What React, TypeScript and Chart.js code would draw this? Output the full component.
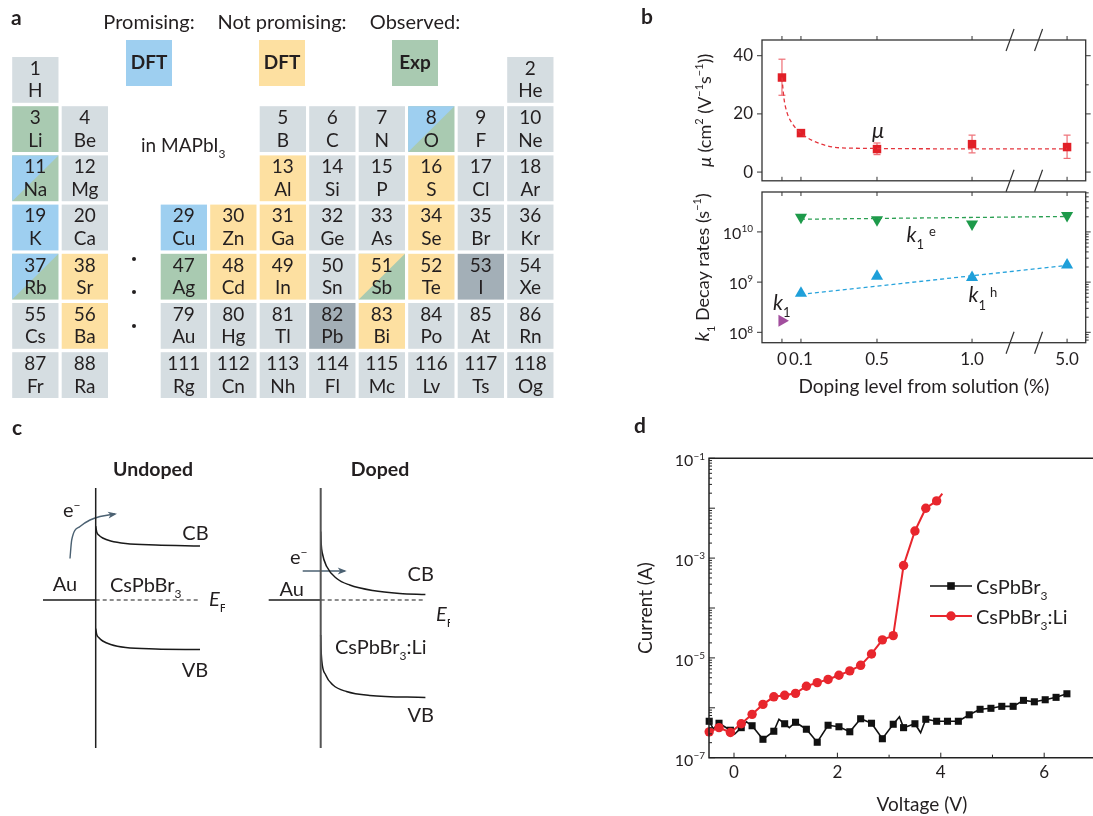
import React, { useEffect, useRef } from 'react';
import { Chart, registerables } from 'chart.js';

Chart.register(...registerables);

const FAM = 'Lato, "Open Sans", "DejaVu Sans", sans-serif';
const INK = '#231f20';
Chart.defaults.font.family = FAM;
Chart.defaults.color = INK;

// ---------------- Panel a: periodic table ----------------
const elNumbers = [1, 2, 3, 4, 5, 6, 7, 8, 9, 10, 11, 12, 13, 14, 15, 16, 17, 18, 19, 20, 29, 30, 31, 32, 33, 34, 35, 36, 37, 38, 47, 48, 49, 50, 51, 52, 53, 54, 55, 56, 79, 80, 81, 82, 83, 84, 85, 86, 87, 88, 111, 112, 113, 114, 115, 116, 117, 118];
const elSymbols = ['H', 'He', 'Li', 'Be', 'B', 'C', 'N', 'O', 'F', 'Ne', 'Na', 'Mg', 'Al', 'Si', 'P', 'S', 'Cl', 'Ar', 'K', 'Ca', 'Cu', 'Zn', 'Ga', 'Ge', 'As', 'Se', 'Br', 'Kr', 'Rb', 'Sr', 'Ag', 'Cd', 'In', 'Sn', 'Sb', 'Te', 'I', 'Xe', 'Cs', 'Ba', 'Au', 'Hg', 'Tl', 'Pb', 'Bi', 'Po', 'At', 'Rn', 'Fr', 'Ra', 'Rg', 'Cn', 'Nh', 'Fl', 'Mc', 'Lv', 'Ts', 'Og'];
const elRow = [0, 0, 1, 1, 1, 1, 1, 1, 1, 1, 2, 2, 2, 2, 2, 2, 2, 2, 3, 3, 3, 3, 3, 3, 3, 3, 3, 3, 4, 4, 4, 4, 4, 4, 4, 4, 4, 4, 5, 5, 5, 5, 5, 5, 5, 5, 5, 5, 6, 6, 6, 6, 6, 6, 6, 6, 6, 6];
const elColumn = [0, 10, 0, 1, 5, 6, 7, 8, 9, 10, 0, 1, 5, 6, 7, 8, 9, 10, 0, 1, 3, 4, 5, 6, 7, 8, 9, 10, 0, 1, 3, 4, 5, 6, 7, 8, 9, 10, 0, 1, 3, 4, 5, 6, 7, 8, 9, 10, 0, 1, 3, 4, 5, 6, 7, 8, 9, 10];
// n: not studied, p: promising (DFT), u: not promising (DFT), e: observed (Exp), pe / ue: split, h: host
const elCategory = [
  'n', 'n',
  'e', 'n', 'n', 'n', 'n', 'pe', 'n', 'n',
  'pe', 'n', 'u', 'n', 'n', 'u', 'n', 'n',
  'p', 'n', 'p', 'u', 'u', 'n', 'n', 'u', 'n', 'n',
  'pe', 'u', 'e', 'u', 'u', 'n', 'ue', 'u', 'h', 'n',
  'n', 'u', 'n', 'n', 'n', 'h', 'u', 'n', 'n', 'n',
  'n', 'n', 'n', 'n', 'n', 'n', 'n', 'n', 'n', 'n',
];
const legendTitles = ['Promising:', 'Not promising:', 'Observed:'];
const legendBoxText = ['DFT', 'DFT', 'Exp'];
const legendCats = ['p', 'u', 'e'];
const CAT_COLORS: any = { n: '#d5dde1', p: '#9ecff0', u: '#fde0a1', e: '#a9cab1', h: '#a3afb7' };

// ---------------- Panel b ----------------
const dopingTickPos = [0, 0.1, 0.5, 1.0, 1.5];
const dopingTickLabels = ['0', '0.1', '0.5', '1.0', '5.0'];
const axisBreakPos = [1.2, 1.35];
const muPos = [0, 0.1, 0.5, 1.0, 1.5];
const muValues = [32.5, 13.4, 7.9, 9.6, 8.6];
const muErrLow = [26.4, 12.6, 6.0, 6.6, 4.7];
const muErrHigh = [38.8, 14.2, 10.0, 12.7, 12.7];
const muFitPos = [0, 0.01, 0.025, 0.05, 0.1, 0.165, 0.27, 0.375, 1.0, 1.5];
const muFitValues = [32.5, 25.6, 20.8, 17.1, 13.4, 10.7, 8.6, 8.2, 8.0, 8.0];
const muTicks = [0, 20, 40];
const muMinorTicks = [10, 30];
const kPos = [0.1, 0.5, 1.0, 1.5];
const k1eValues = [1.97e10, 1.75e10, 1.43e10, 2.12e10];
const k1hValues = [6.0e8, 1.31e9, 1.23e9, 2.2e9];
const k1UndopedPos = [0];
const k1UndopedValues = [1.7e8];
const k1eFitPos = [0.1, 1.5];
const k1eFitValues = [1.79e10, 2.03e10];
const k1hFitPos = [0.1, 1.5];
const k1hFitValues = [5.7e8, 2.15e9];
const kTicks = [1e8, 1e9, 1e10];

// ---------------- Panel c ----------------
const undopedCbDist = [0, 0.1, 0.3, 0.7, 1.5, 3, 6, 10.43];
const undopedCbEnergy = [1.48, 1.36, 1.3, 1.24, 1.18, 1.13, 1.1, 1.08];
const undopedVbDist = [0, 0.1, 0.3, 0.7, 1.5, 3, 6, 10.43];
const undopedVbEnergy = [-0.57, -0.69, -0.75, -0.82, -0.89, -0.95, -0.98, -0.99];
const undopedArrowDist = [-2.57, -2.4, -1.57, -0.57, 0.43, 1.93];
const undopedArrowEnergy = [0.83, 1.2, 1.47, 1.6, 1.67, 1.72];
const undopedAuDist = [-5.27, 0];
const undopedEfDist = [0, 10.43];
const dopedCbDist = [0, 0.05, 0.17, 0.6, 1.6, 2.9, 5.2, 7.9, 10.47];
const dopedCbEnergy = [1.37, 1.12, 0.93, 0.67, 0.43, 0.3, 0.19, 0.13, 0.11];
const dopedVbDist = [0, 0.03, 0.1, 0.5, 1.23, 2.57, 4.9, 10.47];
const dopedVbEnergy = [-0.7, -0.95, -1.2, -1.5, -1.7, -1.83, -1.91, -1.95];
const dopedArrowDist = [-1.8, 2.4];
const dopedArrowEnergy = [0.58, 0.58];
const dopedAuDist = [-5.2, 0];
const dopedEfDist = [0, 10.47];
const levelEnergy = [0, 0];
const wallDist = [0, 0];
const wallEnergy = [2.24, -2.96];

// ---------------- Panel d ----------------
const pureVoltage = [-0.48, -0.4, -0.29, -0.07, 0.01, 0.14, 0.24, 0.35, 0.56, 0.77, 0.87, 0.98, 1.07, 1.19, 1.4, 1.61, 1.82, 2.03, 2.24, 2.45, 2.66, 2.87, 3.08, 3.2, 3.28, 3.5, 3.61, 3.71, 3.92, 4.13, 4.34, 4.55, 4.76, 4.97, 5.18, 5.4, 5.6, 5.81, 6.02, 6.23, 6.44];
const pureCurrent = [5.37e-7, 3.8e-7, 4.9e-7, 3.55e-7, 2.95e-7, 4.0e-7, 5.25e-7, 4.37e-7, 2.34e-7, 3.39e-7, 5.89e-7, 4.79e-7, 4.0e-7, 5.13e-7, 3.72e-7, 2.04e-7, 4.47e-7, 4.17e-7, 3.31e-7, 6.03e-7, 4.9e-7, 2.4e-7, 4.68e-7, 6.6e-7, 4.0e-7, 4.79e-7, 3.16e-7, 5.89e-7, 5.37e-7, 5.37e-7, 5.37e-7, 7.24e-7, 9.33e-7, 9.77e-7, 1.07e-6, 1.07e-6, 1.41e-6, 1.32e-6, 1.45e-6, 1.62e-6, 1.91e-6];
const pureMarked = [1, 0, 1, 1, 0, 1, 0, 1, 1, 1, 0, 1, 0, 1, 1, 1, 1, 1, 1, 1, 1, 1, 1, 0, 1, 1, 0, 1, 1, 1, 1, 1, 1, 1, 1, 1, 1, 1, 1, 1, 1];
const liVoltage = [-0.48, -0.29, -0.07, 0.14, 0.35, 0.56, 0.77, 0.98, 1.19, 1.4, 1.61, 1.82, 2.03, 2.24, 2.45, 2.66, 2.87, 3.08, 3.28, 3.5, 3.71, 3.92, 4.03];
const liCurrent = [3.3e-7, 4.0e-7, 3.2e-7, 4.8e-7, 7.4e-7, 1.17e-6, 1.66e-6, 1.78e-6, 1.95e-6, 2.7e-6, 3.2e-6, 3.7e-6, 4.5e-6, 5.5e-6, 7.1e-6, 1.2e-5, 2.3e-5, 2.8e-5, 7.1e-4, 3.5e-3, 1.0e-2, 1.4e-2, 1.95e-2];
const liMarked = [1, 1, 1, 1, 1, 1, 1, 1, 1, 1, 1, 1, 1, 1, 1, 1, 1, 1, 1, 1, 1, 1, 0];
const voltageTicks = [0, 2, 4, 6];
const voltageMinorTicks = [1, 3, 5, 7];
const currentLabelTicks = [1e-7, 1e-5, 1e-3, 1e-1];

// ---------------- helpers ----------------
type Seg = { t: string; it?: boolean; b?: boolean; s?: number; dy?: number; dx?: number };

function drawRich(ctx: any, segs: Seg[], x: number, y: number, align: string, base: number, color = INK) {
  ctx.save();
  ctx.textBaseline = 'alphabetic';
  ctx.textAlign = 'left';
  ctx.fillStyle = color;
  const font = (s: Seg) => `${s.it ? 'italic ' : ''}${s.b ? 'bold ' : ''}${s.s ?? base}px ${FAM}`;
  let w = 0;
  for (const s of segs) {
    ctx.font = font(s);
    w += (s.dx ?? 0) + ctx.measureText(s.t).width;
  }
  let cx = align === 'left' ? x : align === 'center' ? x - w / 2 : x - w;
  for (const s of segs) {
    ctx.font = font(s);
    cx += s.dx ?? 0;
    ctx.fillText(s.t, cx, y + (s.dy ?? 0));
    cx += ctx.measureText(s.t).width;
  }
  ctx.restore();
}
const sub = (t: string, base: number, extra: any = {}): Seg => ({ t, s: Math.round(base * 0.62), dy: base * 0.32, ...extra });
const sup = (t: string, base: number, extra: any = {}): Seg => ({ t, s: Math.round(base * 0.62), dy: -base * 0.42, ...extra });

function seg(ctx: any, x1: number, y1: number, x2: number, y2: number) {
  ctx.beginPath();
  ctx.moveTo(x1, y1);
  ctx.lineTo(x2, y2);
  ctx.stroke();
}
const pts = (xs: number[], ys: number[]) => xs.map((x, i) => ({ x, y: ys[i] }));

const baseOptions = {
  animation: false,
  responsive: false,
  devicePixelRatio: 1,
  events: [],
  plugins: { legend: { display: false }, tooltip: { enabled: false } },
};

const hiddenAxis = (min: number, max: number, extra: any = {}) => ({ type: 'linear', display: false, min, max, ...extra });

// ---------------- Panel a chart ----------------
const CELL_W = 0.935;
const CELL_H = 0.931;
function makePeriodic(canvas: HTMLCanvasElement) {
  return new Chart(canvas, {
    type: 'scatter',
    data: { datasets: [{ data: pts(elColumn, elRow), pointRadius: 0 }] },
    options: {
      ...baseOptions,
      layout: { padding: 0 },
      scales: {
        x: hiddenAxis(-12.2 / 49.5, (560 - 12.2) / 49.5),
        y: hiddenAxis(-57 / 49.2, (410 - 57) / 49.2, { reverse: true }),
      },
    } as any,
    plugins: [
      {
        id: 'ptable',
        afterDraw(chart: any) {
          const { ctx } = chart;
          const xs = chart.scales.x;
          const ys = chart.scales.y;
          ctx.save();
          drawRich(ctx, [{ t: 'a', b: true }], 11, 25, 'left', 21);
          const centers = [149, 282, 415];
          legendTitles.forEach((t, i) => drawRich(ctx, [{ t }], centers[i], 29, 'center', 20));
          legendCats.forEach((cat, i) => {
            ctx.fillStyle = CAT_COLORS[cat];
            ctx.fillRect(centers[i] - 23, 40, 46, 46);
            drawRich(ctx, [{ t: legendBoxText[i], b: true }], centers[i], 69, 'center', 19);
          });
          elNumbers.forEach((n, i) => {
            const x0 = xs.getPixelForValue(elColumn[i]);
            const x1 = xs.getPixelForValue(elColumn[i] + CELL_W);
            const y0 = ys.getPixelForValue(elRow[i]);
            const y1 = ys.getPixelForValue(elRow[i] + CELL_H);
            const cat = elCategory[i];
            if (cat === 'pe' || cat === 'ue') {
              ctx.fillStyle = CAT_COLORS.e;
              ctx.fillRect(x0, y0, x1 - x0, y1 - y0);
              ctx.fillStyle = CAT_COLORS[cat === 'pe' ? 'p' : 'u'];
              ctx.beginPath();
              ctx.moveTo(x0, y0);
              ctx.lineTo(x1, y0);
              ctx.lineTo(x0, y1);
              ctx.closePath();
              ctx.fill();
            } else {
              ctx.fillStyle = CAT_COLORS[cat];
              ctx.fillRect(x0, y0, x1 - x0, y1 - y0);
            }
            const cx = (x0 + x1) / 2;
            drawRich(ctx, [{ t: String(n) }], cx, y0 + 17.7, 'center', 19);
            drawRich(ctx, [{ t: elSymbols[i] }], cx, y0 + 40.4, 'center', 19);
          });
          drawRich(ctx, [{ t: 'in MAPbI' }, sub('3', 19)], 141, 152, 'left', 19);
          ctx.fillStyle = INK;
          [259, 292, 326].forEach((y) => {
            ctx.beginPath();
            ctx.arc(134, y, 2, 0, Math.PI * 2);
            ctx.fill();
          });
          ctx.restore();
        },
      },
    ],
  });
}

// ---------------- Panel b charts ----------------
function drawSlash(ctx: any, x: number, y: number) {
  seg(ctx, x - 4, y + 11, x + 4, y - 11);
}

function makeMobility(canvas: HTMLCanvasElement) {
  return new Chart(canvas, {
    type: 'line',
    data: {
      datasets: [
        { data: pts(muFitPos, muFitValues), borderColor: '#e4343c', borderWidth: 1.3, borderDash: [4, 3], pointRadius: 0, cubicInterpolationMode: 'monotone', clip: false },
        { data: pts(muPos, muValues), showLine: false, pointStyle: 'rect', pointRadius: 6, pointBackgroundColor: '#e11f27', pointBorderColor: '#e11f27', pointBorderWidth: 0, clip: false },
      ],
    },
    options: {
      ...baseOptions,
      layout: { padding: { top: 40, right: 7.3, bottom: 9, left: 0 } },
      scales: {
        x: hiddenAxis(-0.105, 1.598),
        y: {
          type: 'linear', min: -3, max: 45.4,
          afterBuildTicks: (s: any) => { s.ticks = muTicks.map((v) => ({ value: v })); },
          afterFit: (s: any) => { s.width = 122; },
          grid: { display: false, drawTicks: false },
          border: { display: false },
          ticks: { font: { size: 17, family: FAM }, color: INK, padding: 9 },
        },
      },
    } as any,
    plugins: [
      {
        id: 'mobilityDeco',
        beforeDatasetsDraw(chart: any) {
          const { ctx, scales: { x, y } } = chart;
          ctx.save();
          ctx.strokeStyle = '#ee6d74';
          ctx.lineWidth = 1.2;
          muPos.forEach((p, i) => {
            const px = x.getPixelForValue(p);
            const y1 = y.getPixelForValue(muErrLow[i]);
            const y2 = y.getPixelForValue(muErrHigh[i]);
            seg(ctx, px, y1, px, y2);
            seg(ctx, px - 3.5, y1, px + 3.5, y1);
            seg(ctx, px - 3.5, y2, px + 3.5, y2);
          });
          ctx.restore();
        },
        afterDraw(chart: any) {
          const { ctx, chartArea: a, scales: { x, y } } = chart;
          ctx.save();
          ctx.strokeStyle = '#333';
          ctx.lineWidth = 1.3;
          ctx.strokeRect(a.left, a.top, a.right - a.left, a.bottom - a.top);
          ctx.lineWidth = 1;
          dopingTickPos.forEach((p) => {
            const px = x.getPixelForValue(p);
            seg(ctx, px, a.top, px, a.top - 4);
            seg(ctx, px, a.bottom, px, a.bottom - 4);
          });
          muTicks.forEach((v) => {
            const py = y.getPixelForValue(v);
            seg(ctx, a.left, py, a.left - 5, py);
            seg(ctx, a.right, py, a.right + 5, py);
          });
          muMinorTicks.forEach((v) => {
            const py = y.getPixelForValue(v);
            seg(ctx, a.right, py, a.right + 3, py);
          });
          ctx.lineWidth = 1.2;
          axisBreakPos.forEach((p) => {
            const px = x.getPixelForValue(p);
            drawSlash(ctx, px, a.top);
            drawSlash(ctx, px, a.bottom);
          });
          drawRich(ctx, [{ t: 'b', b: true }], 1, 24, 'left', 21);
          drawRich(ctx, [{ t: 'μ', it: true }], x.getPixelForValue(0.5) + 1, 138, 'center', 22);
          ctx.translate(65, (a.top + a.bottom) / 2);
          ctx.rotate(-Math.PI / 2);
          drawRich(ctx, [{ t: 'μ', it: true }, { t: ' (cm' }, sup('2', 18), { t: ' (V' }, sup('−1', 18), { t: 's' }, sup('−1', 18), { t: '))' }], 0, 6, 'center', 18);
          ctx.restore();
        },
      },
    ],
  });
}

function makeDecay(canvas: HTMLCanvasElement) {
  const marker = (color: string, rotation: number) => ({
    showLine: false, pointStyle: 'triangle', pointRotation: rotation, pointRadius: 7,
    pointBackgroundColor: color, pointBorderColor: color, pointBorderWidth: 0, clip: false,
  });
  return new Chart(canvas, {
    type: 'line',
    data: {
      datasets: [
        { data: pts(k1eFitPos, k1eFitValues), borderColor: '#2a9f52', borderWidth: 1.3, borderDash: [4, 3], pointRadius: 0, clip: false },
        { data: pts(k1hFitPos, k1hFitValues), borderColor: '#27a3dc', borderWidth: 1.3, borderDash: [4, 3], pointRadius: 0, clip: false },
        { data: pts(kPos, k1eValues), ...marker('#1d9a4a', 180) },
        { data: pts(kPos, k1hValues), ...marker('#1e9fd9', 0) },
        { data: pts(k1UndopedPos, k1UndopedValues), ...marker('#a24e9e', 90) },
      ],
    },
    options: {
      ...baseOptions,
      layout: { padding: { top: 6.7, right: 7.3, bottom: 0, left: 0 } },
      scales: {
        x: {
          type: 'linear', min: -0.105, max: 1.598,
          afterBuildTicks: (s: any) => { s.ticks = dopingTickPos.map((v) => ({ value: v })); },
          afterFit: (s: any) => { s.height = 72.3; },
          grid: { display: false, drawTicks: false },
          border: { display: false },
          ticks: { callback: (_v: any, i: number) => dopingTickLabels[i], font: { size: 17, family: FAM }, color: INK, padding: 7, autoSkip: false, maxRotation: 0, minRotation: 0 },
          title: { display: true, text: 'Doping level from solution (%)', font: { size: 19, family: FAM }, color: INK, padding: { top: 0, bottom: 17 } },
        },
        y: {
          type: 'logarithmic', min: 6.21e7, max: 6.24e10,
          afterBuildTicks: (s: any) => { s.ticks = kTicks.map((v) => ({ value: v })); },
          afterFit: (s: any) => { s.width = 122; },
          grid: { display: false, drawTicks: false },
          border: { display: false },
          ticks: { display: false },
        },
      },
    } as any,
    plugins: [
      {
        id: 'decayDeco',
        afterDraw(chart: any) {
          const { ctx, chartArea: a, scales: { x, y } } = chart;
          ctx.save();
          ctx.strokeStyle = '#333';
          ctx.lineWidth = 1.3;
          ctx.strokeRect(a.left, a.top, a.right - a.left, a.bottom - a.top);
          ctx.lineWidth = 1;
          dopingTickPos.forEach((p) => {
            const px = x.getPixelForValue(p);
            seg(ctx, px, a.top, px, a.top + 4);
            seg(ctx, px, a.bottom, px, a.bottom - 4);
          });
          kTicks.forEach((v) => {
            const py = y.getPixelForValue(v);
            seg(ctx, a.left, py, a.left - 5, py);
            seg(ctx, a.right, py, a.right + 5, py);
          });
          for (let e = 7; e <= 10; e++) {
            for (let m = 2; m <= 9; m++) {
              const v = m * Math.pow(10, e);
              if (v < y.min || v > y.max) continue;
              const py = y.getPixelForValue(v);
              seg(ctx, a.right, py, a.right + 3, py);
            }
          }
          ctx.lineWidth = 1.2;
          axisBreakPos.forEach((p) => drawSlash(ctx, x.getPixelForValue(p), a.bottom));
          kTicks.forEach((v) => {
            const py = y.getPixelForValue(v);
            drawRich(ctx, [{ t: '10' }, sup(String(Math.round(Math.log10(v))), 16)], a.left - 9, py + 7, 'right', 16);
          });
          const kl = (t1: Seg[], px: number, py: number) => drawRich(ctx, t1, px, py, 'left', 21);
          kl([{ t: 'k', it: true }, sub('1', 21, { dy: 7 })], x.getPixelForValue(0) - 9, 125);
          kl([{ t: 'k', it: true }, sub('1', 21, { dy: 7 }), sup('e', 21, { dx: 5, dy: -6 })], x.getPixelForValue(0.655), 56.7);
          kl([{ t: 'k', it: true }, sub('1', 21, { dy: 8 }), sup('h', 21, { dx: 4, dy: -5 })], x.getPixelForValue(0.982), 116.7);
          ctx.translate(63, (a.top + a.bottom) / 2);
          ctx.rotate(-Math.PI / 2);
          drawRich(ctx, [{ t: 'k', it: true, s: 20 }, sub('1', 18), { t: ' Decay rates (s' }, sup('−1', 18), { t: ')' }], 0, 6, 'center', 18);
          ctx.restore();
        },
      },
    ],
  });
}

// ---------------- Panel c charts ----------------
function makeBand(canvas: HTMLCanvasElement, spec: any) {
  const curve = (xs: number[], ys: number[]) => ({ data: pts(xs, ys), borderColor: '#1a1a1a', borderWidth: 1.5, pointRadius: 0, cubicInterpolationMode: 'monotone', clip: false });
  return new Chart(canvas, {
    type: 'line',
    data: {
      datasets: [
        { data: pts(wallDist, wallEnergy), borderColor: spec.wallColor, borderWidth: spec.wallWidth, pointRadius: 0, clip: false },
        { data: pts(spec.auDist, levelEnergy), borderColor: '#1a1a1a', borderWidth: 1.3, pointRadius: 0, clip: false },
        { data: pts(spec.efDist, levelEnergy), borderColor: '#1a1a1a', borderWidth: 1.2, borderDash: [4, 3], pointRadius: 0, clip: false },
        curve(spec.cbDist, spec.cbEnergy),
        curve(spec.vbDist, spec.vbEnergy),
        { data: pts(spec.arrowDist, spec.arrowEnergy), borderColor: '#4b6172', borderWidth: 1.4, pointRadius: 0, cubicInterpolationMode: 'monotone', clip: false },
      ],
    },
    options: {
      ...baseOptions,
      layout: { padding: 0 },
      scales: { x: hiddenAxis(-9.57, 12.93), y: hiddenAxis(-4.32, 3.6) },
    } as any,
    plugins: [
      {
        id: 'bandDeco',
        afterDraw(chart: any) {
          const { ctx, scales: { x, y } } = chart;
          ctx.save();
          const n = spec.arrowDist.length;
          const xe = x.getPixelForValue(spec.arrowDist[n - 1]);
          const ye = y.getPixelForValue(spec.arrowEnergy[n - 1]);
          const xp = x.getPixelForValue(spec.arrowDist[n - 2]);
          const yp = y.getPixelForValue(spec.arrowEnergy[n - 2]);
          const len = Math.hypot(xe - xp, ye - yp) || 1;
          const ux = (xe - xp) / len;
          const uy = (ye - yp) / len;
          const tipX = xe + ux * 2;
          const tipY = ye + uy * 2;
          ctx.fillStyle = '#4b6172';
          ctx.beginPath();
          ctx.moveTo(tipX, tipY);
          ctx.lineTo(tipX - ux * 9 - uy * 3.5, tipY - uy * 9 + ux * 3.5);
          ctx.lineTo(tipX - ux * 6.5, tipY - uy * 6.5);
          ctx.lineTo(tipX - ux * 9 + uy * 3.5, tipY - uy * 9 - ux * 3.5);
          ctx.closePath();
          ctx.fill();
          spec.labels(ctx);
          ctx.restore();
        },
      },
    ],
  });
}

const undopedSpec = {
  cbDist: undopedCbDist, cbEnergy: undopedCbEnergy, vbDist: undopedVbDist, vbEnergy: undopedVbEnergy,
  arrowDist: undopedArrowDist, arrowEnergy: undopedArrowEnergy, auDist: undopedAuDist, efDist: undopedEfDist,
  wallColor: '#1f1f1f', wallWidth: 1.5,
  labels: (ctx: any) => {
    drawRich(ctx, [{ t: 'c', b: true }], 12, 15, 'left', 21);
    drawRich(ctx, [{ t: 'Undoped', b: true }], 153, 56, 'center', 19.5);
    drawRich(ctx, [{ t: 'e' }, sup('−', 20)], 63, 97, 'left', 20);
    drawRich(ctx, [{ t: 'CB' }], 195.5, 120, 'center', 20);
    drawRich(ctx, [{ t: 'Au' }], 65, 171, 'center', 20);
    drawRich(ctx, [{ t: 'CsPbBr' }, sub('3', 20)], 110, 172, 'left', 20);
    drawRich(ctx, [{ t: 'E', it: true }, sub('F', 20)], 209, 186, 'left', 20);
    drawRich(ctx, [{ t: 'VB' }], 195, 257, 'center', 20);
  },
};

const dopedSpec = {
  cbDist: dopedCbDist, cbEnergy: dopedCbEnergy, vbDist: dopedVbDist, vbEnergy: dopedVbEnergy,
  arrowDist: dopedArrowDist, arrowEnergy: dopedArrowEnergy, auDist: dopedAuDist, efDist: dopedEfDist,
  wallColor: '#555', wallWidth: 2,
  labels: (ctx: any) => {
    drawRich(ctx, [{ t: 'Doped', b: true }], 155, 56, 'center', 19.5);
    drawRich(ctx, [{ t: 'e' }, sup('−', 20)], 65, 144, 'left', 20);
    drawRich(ctx, [{ t: 'CB' }], 195.7, 161, 'center', 20);
    drawRich(ctx, [{ t: 'Au' }], 66.7, 176, 'center', 20);
    drawRich(ctx, [{ t: 'E', it: true }, sub('F', 20)], 211, 201, 'left', 20);
    drawRich(ctx, [{ t: 'CsPbBr' }, sub('3', 20), { t: ':Li' }], 110, 234, 'left', 20);
    drawRich(ctx, [{ t: 'VB' }], 195.7, 302, 'center', 20);
  },
};

// ---------------- Panel d chart ----------------
function makeIV(canvas: HTMLCanvasElement) {
  return new Chart(canvas, {
    type: 'line',
    data: {
      datasets: [
        {
          data: pts(liVoltage, liCurrent), borderColor: '#e8262d', borderWidth: 2, pointStyle: 'circle',
          pointRadius: liMarked.map((m) => (m ? 4.7 : 0)), pointBackgroundColor: '#e8262d', pointBorderColor: '#e8262d', pointBorderWidth: 0, clip: false,
        },
        {
          data: pts(pureVoltage, pureCurrent), borderColor: '#111', borderWidth: 1.6, pointStyle: 'rect',
          pointRadius: pureMarked.map((m) => (m ? 5 : 0)), pointBackgroundColor: '#111', pointBorderColor: '#111', pointBorderWidth: 0, clip: false,
        },
      ],
    },
    options: {
      ...baseOptions,
      layout: { padding: { top: 53.3, right: 0, bottom: 0, left: 0 } },
      scales: {
        x: {
          type: 'linear', min: -0.4837, max: 7.757,
          afterBuildTicks: (s: any) => { s.ticks = voltageTicks.map((v) => ({ value: v })); },
          afterFit: (s: any) => { s.height = 58.3; },
          grid: { display: false, drawTicks: false },
          border: { display: false },
          ticks: { font: { size: 17, family: FAM }, color: INK, padding: 5, autoSkip: false, maxRotation: 0, minRotation: 0 },
          title: { display: true, text: 'Voltage (V)', font: { size: 19, family: FAM }, color: INK, padding: { top: 0, bottom: 0 } },
        },
        y: {
          type: 'logarithmic', min: 1e-7, max: 1e-1,
          afterBuildTicks: (s: any) => { s.ticks = currentLabelTicks.map((v) => ({ value: v })); },
          afterFit: (s: any) => { s.width = 89; },
          grid: { display: false, drawTicks: false },
          border: { display: false },
          ticks: { display: false },
          title: { display: true, text: 'Current (A)', font: { size: 19, family: FAM }, color: INK, padding: { top: 14.6, bottom: 0 } },
        },
      },
    } as any,
    plugins: [
      {
        id: 'ivDeco',
        afterDraw(chart: any) {
          const { ctx, chartArea: a, scales: { x, y } } = chart;
          ctx.save();
          ctx.strokeStyle = '#222';
          ctx.lineWidth = 1.5;
          ctx.beginPath();
          ctx.moveTo(a.right + 5, a.top);
          ctx.lineTo(a.left, a.top);
          ctx.lineTo(a.left, a.bottom);
          ctx.lineTo(a.right + 5, a.bottom);
          ctx.stroke();
          ctx.lineWidth = 1;
          voltageTicks.forEach((v) => { const px = x.getPixelForValue(v); seg(ctx, px, a.bottom, px, a.bottom - 5); });
          voltageMinorTicks.forEach((v) => { const px = x.getPixelForValue(v); seg(ctx, px, a.bottom, px, a.bottom - 3); });
          for (let e = -7; e <= -1; e++) {
            const py = y.getPixelForValue(Math.pow(10, e));
            seg(ctx, a.left, py, a.left + 6, py);
            if (e === -1) continue;
            for (let m = 2; m <= 9; m++) {
              const pm = y.getPixelForValue(m * Math.pow(10, e));
              seg(ctx, a.left, pm, a.left + 3, pm);
            }
          }
          currentLabelTicks.forEach((v) => {
            const py = y.getPixelForValue(v);
            drawRich(ctx, [{ t: '10' }, sup(String(Math.round(Math.log10(v))).replace('-', '−'), 16)], a.left - 4, py + 8, 'right', 16);
          });
          // legend
          ctx.lineWidth = 1.6;
          ctx.strokeStyle = '#111';
          seg(ctx, 310, 181, 352, 181);
          ctx.fillStyle = '#111';
          ctx.fillRect(331 - 3.8, 181 - 3.8, 7.6, 7.6);
          drawRich(ctx, [{ t: 'CsPbBr' }, sub('3', 20)], 356, 188.5, 'left', 20);
          ctx.lineWidth = 2;
          ctx.strokeStyle = '#e8262d';
          seg(ctx, 310, 211, 352, 211);
          ctx.fillStyle = '#e8262d';
          ctx.beginPath();
          ctx.arc(331, 211, 4.7, 0, Math.PI * 2);
          ctx.fill();
          drawRich(ctx, [{ t: 'CsPbBr' }, sub('3', 20), { t: ':Li' }], 356, 218.5, 'left', 20);
          drawRich(ctx, [{ t: 'd', b: true }], 14, 28, 'left', 21);
          ctx.restore();
        },
      },
    ],
  });
}

// ---------------- React ----------------
function ChartBox({ left, top, width, height, make }: { left: number; top: number; width: number; height: number; make: (c: HTMLCanvasElement) => any }) {
  const ref = useRef<HTMLCanvasElement>(null);
  useEffect(() => {
    const chart = make(ref.current as HTMLCanvasElement);
    return () => chart.destroy();
  }, []);
  return <canvas ref={ref} width={width} height={height} style={{ position: 'absolute', left, top, width, height }} />;
}

export default function App() {
  return (
    <div style={{ position: 'absolute', left: 0, top: 0, width: 1093, height: 816, overflow: 'hidden', background: '#fff', fontFamily: FAM }}>
      <ChartBox left={0} top={0} width={560} height={410} make={makePeriodic} />
      <ChartBox left={640} top={0} width={453} height={200} make={makeMobility} />
      <ChartBox left={640} top={185} width={453} height={230} make={makeDecay} />
      <ChartBox left={0} top={420} width={225} height={396} make={(c) => makeBand(c, undopedSpec)} />
      <ChartBox left={225} top={420} width={225} height={396} make={(c) => makeBand(c, dopedSpec)} />
      <ChartBox left={620} top={405} width={520} height={411} make={makeIV} />
    </div>
  );
}
